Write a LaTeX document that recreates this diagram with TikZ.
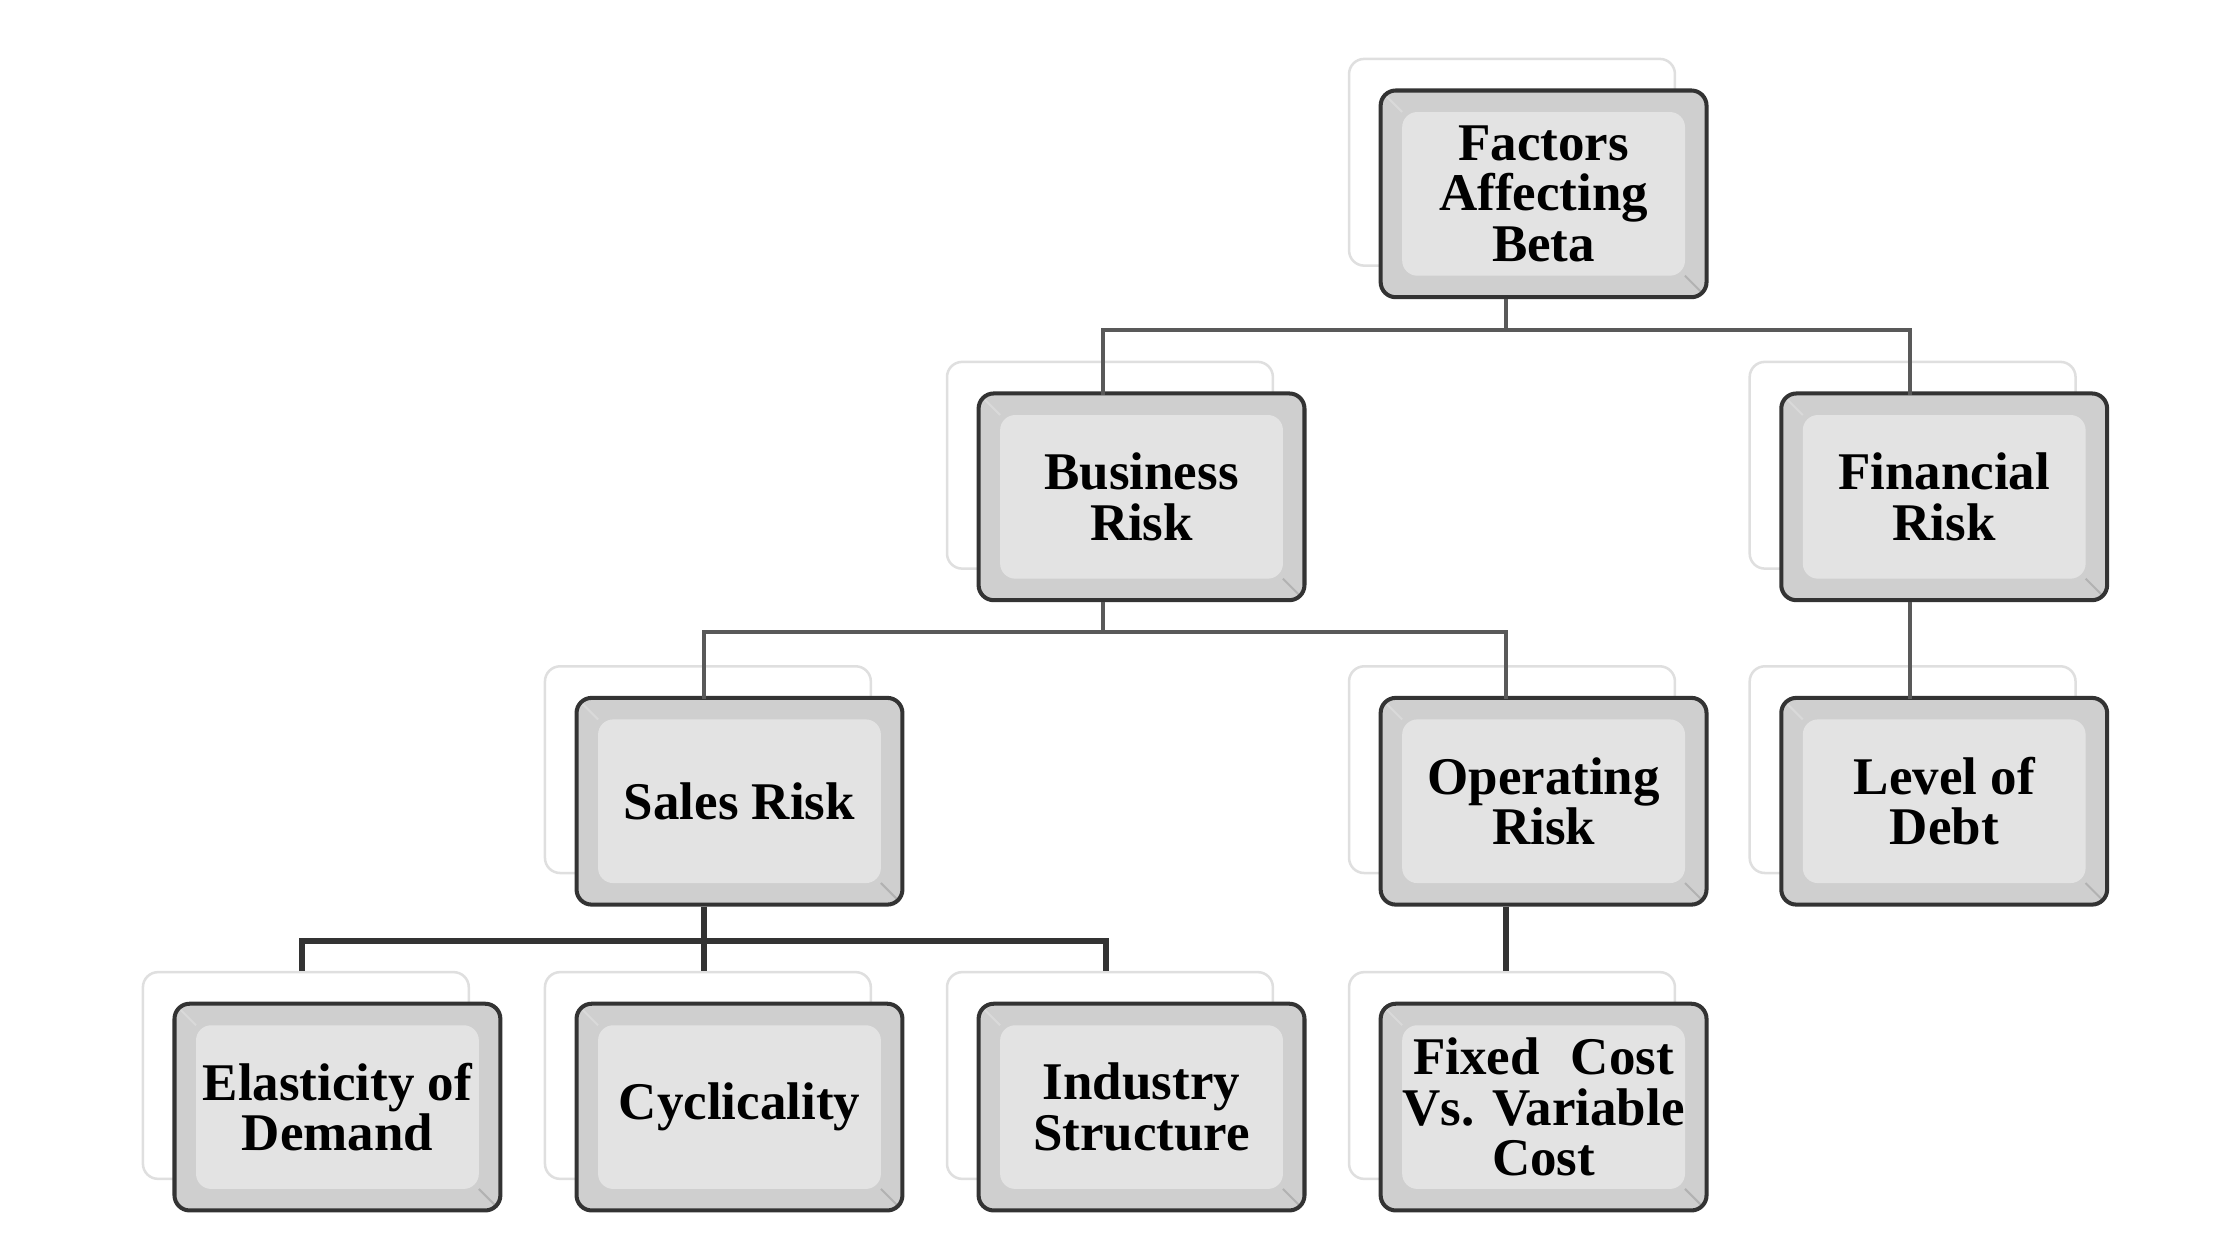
\documentclass[tikz,border=0pt]{standalone}
\usepackage{fontspec}
\setmainfont{Liberation Serif}
\begin{document}
\begin{tikzpicture}[x=0.02cm,y=-0.02cm,
  box/.style={draw=black!80,line width=1.6pt,rounded corners=6pt,fill=gray!38,
    minimum width=4.54cm,minimum height=2.88cm,align=center,
    font=\bfseries\fontsize{21}{20}\selectfont,
    path picture={\fill[gray!22] ([shift={(0.3cm,-0.3cm)}]path picture bounding box.north west) rectangle ([shift={(-0.3cm,0.3cm)}]path picture bounding box.south east);
      \draw[white!70!gray,line width=0.8pt] ([shift={(0.3cm,-0.3cm)}]path picture bounding box.north west) -- (path picture bounding box.north west);
      \draw[gray!60,line width=0.8pt] ([shift={(-0.3cm,0.3cm)}]path picture bounding box.south east) -- (path picture bounding box.south east);}},
  ghost/.style={draw=gray!25,line width=1pt,rounded corners=6pt,fill=white,
    minimum width=4.54cm,minimum height=2.88cm},
  link/.style={draw=gray!70!black,line width=1.6pt},
  linkd/.style={draw=black!80,line width=2.4pt}]
\useasboundingbox (0,0) rectangle (1560,877);
\newcommand{\bx}[4]{\node[ghost] at ([shift={(-22,-22)}]#2,#3) {};
  \node[box] (#1) at (#2,#3) {#4};}
\bx{f}{1075}{135}{Factors\\Affecting\\Beta}
\bx{b}{795}{346}{Business\\Risk}
\bx{fr}{1354}{346}{Financial\\Risk}
\bx{s}{515}{558}{Sales Risk}
\bx{o}{1075}{558}{Operating\\Risk}
\bx{l}{1354}{558}{Level of\\Debt}
\bx{e}{235}{771}{Elasticity of\\Demand}
\bx{c}{515}{771}{Cyclicality}
\bx{i}{795}{771}{Industry\\Structure}
\bx{x}{1075}{771}{Fixed\,\, Cost\\Vs. Variable\\Cost}
\coordinate (p1) at (1049,230);
\draw[link] (f.south -| p1) -- (p1) -- (768,230) -- (768,275);
\draw[link] (p1) -- (1330,230) -- (1330,275);
\coordinate (p2) at (768,440);
\draw[link] (b.south -| p2) -- (p2) -- (490,440) -- (490,487);
\draw[link] (p2) -- (1049,440) -- (1049,487);
\draw[link] (fr.south -| 1330,0) -- (1330,487);
\coordinate (p3) at (490,655);
\draw[linkd] (s.south -| p3) -- (p3) -- (210,655) -- (210,676);
\draw[linkd] (p3) -- (770,655) -- (770,676);
\draw[linkd] (p3) -- (490,676);
\draw[linkd] (o.south -| 1049,0) -- (1049,676);
\end{tikzpicture}
\end{document}
